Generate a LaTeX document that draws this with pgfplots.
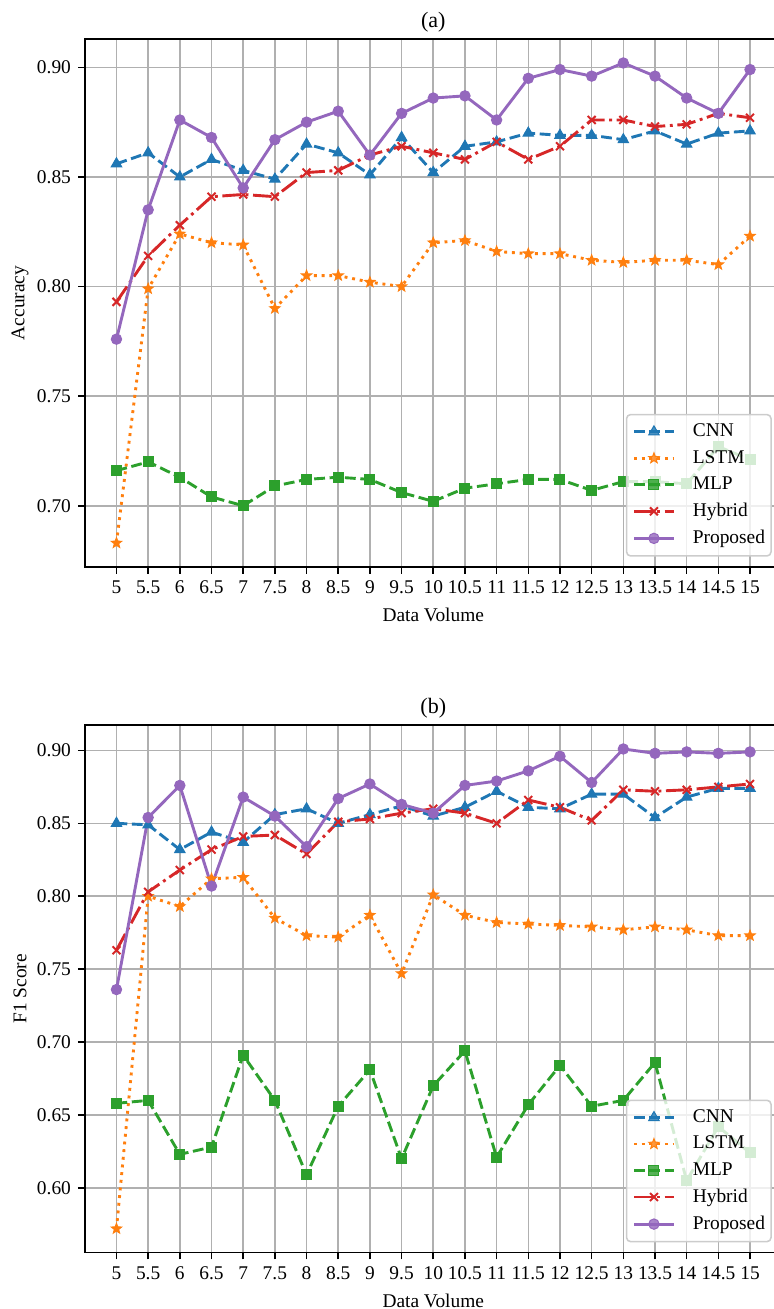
\documentclass[border=0pt]{standalone}
\usepackage{pgfplots}
\usepackage{pgfplotstable}
\pgfplotsset{compat=1.18}
\usepackage{fontspec}
\setmainfont{Liberation Serif}
\definecolor{cnn}{HTML}{1F77B4}
\definecolor{lstm}{HTML}{FF7F0E}
\definecolor{mlp}{HTML}{2CA02C}
\definecolor{hyb}{HTML}{D62728}
\definecolor{prop}{HTML}{9467BD}
\definecolor{gridc}{HTML}{B0B0B0}
\definecolor{legc}{HTML}{CCCCCC}

\pgfdeclareplotmark{fstar}{%
  \pgfpathmoveto{\pgfpointpolar{90}{\pgfplotmarksize}}%
  \pgfpathlineto{\pgfpointpolar{126}{0.42\pgfplotmarksize}}%
  \pgfpathlineto{\pgfpointpolar{162}{\pgfplotmarksize}}%
  \pgfpathlineto{\pgfpointpolar{198}{0.42\pgfplotmarksize}}%
  \pgfpathlineto{\pgfpointpolar{234}{\pgfplotmarksize}}%
  \pgfpathlineto{\pgfpointpolar{270}{0.42\pgfplotmarksize}}%
  \pgfpathlineto{\pgfpointpolar{306}{\pgfplotmarksize}}%
  \pgfpathlineto{\pgfpointpolar{342}{0.42\pgfplotmarksize}}%
  \pgfpathlineto{\pgfpointpolar{18}{\pgfplotmarksize}}%
  \pgfpathlineto{\pgfpointpolar{54}{0.42\pgfplotmarksize}}%
  \pgfpathclose\pgfusepathqfillstroke}

\pgfplotstableread{
x cnn lstm mlp hyb prop
5 0.856 0.683 0.716 0.793 0.776
5.5 0.861 0.799 0.720 0.814 0.835
6 0.850 0.824 0.713 0.828 0.876
6.5 0.858 0.820 0.704 0.841 0.868
7 0.853 0.819 0.700 0.842 0.845
7.5 0.849 0.790 0.709 0.841 0.867
8 0.865 0.805 0.712 0.852 0.875
8.5 0.861 0.805 0.713 0.853 0.880
9 0.851 0.802 0.712 0.860 0.860
9.5 0.868 0.800 0.706 0.864 0.879
10 0.852 0.820 0.702 0.861 0.886
10.5 0.864 0.821 0.708 0.858 0.887
11 0.866 0.816 0.710 0.866 0.876
11.5 0.870 0.815 0.712 0.858 0.895
12 0.869 0.815 0.712 0.864 0.899
12.5 0.869 0.812 0.707 0.876 0.896
13 0.867 0.811 0.711 0.876 0.902
13.5 0.871 0.812 0.711 0.873 0.896
14 0.865 0.812 0.710 0.874 0.886
14.5 0.870 0.810 0.727 0.879 0.879
15 0.871 0.823 0.721 0.877 0.899
}\dataA

\pgfplotstableread{
x cnn lstm mlp hyb prop
5 0.850 0.572 0.658 0.763 0.736
5.5 0.849 0.800 0.660 0.803 0.854
6 0.832 0.793 0.623 0.818 0.876
6.5 0.844 0.812 0.628 0.832 0.807
7 0.837 0.813 0.691 0.841 0.868
7.5 0.856 0.785 0.660 0.842 0.855
8 0.860 0.773 0.609 0.829 0.834
8.5 0.850 0.772 0.656 0.851 0.867
9 0.856 0.787 0.681 0.853 0.877
9.5 0.862 0.747 0.620 0.857 0.863
10 0.855 0.801 0.670 0.860 0.857
10.5 0.861 0.787 0.694 0.857 0.876
11 0.872 0.782 0.621 0.850 0.879
11.5 0.861 0.781 0.657 0.866 0.886
12 0.860 0.780 0.684 0.861 0.896
12.5 0.870 0.779 0.656 0.852 0.878
13 0.870 0.777 0.660 0.873 0.901
13.5 0.854 0.779 0.686 0.872 0.898
14 0.868 0.777 0.605 0.873 0.899
14.5 0.874 0.773 0.642 0.875 0.898
15 0.874 0.773 0.624 0.877 0.899
}\dataB

\pgfplotsset{
  panel/.style={
    scale only axis, width=348.45pt, height=264pt,
    xmin=4.5, xmax=15.5,
    xtick={5,5.5,6,6.5,7,7.5,8,8.5,9,9.5,10,10.5,11,11.5,12,12.5,13,13.5,14,14.5,15},
    xticklabels={5,5.5,6,6.5,7,7.5,8,8.5,9,9.5,10,10.5,11,11.5,12,12.5,13,13.5,14,14.5,15},
    xtick pos=bottom, ytick pos=left,
    tick align=outside, major tick length=3.4pt,
    every tick/.style={black, line width=0.78pt},
    axis line style={black, line width=0.78pt},
    grid=major, major grid style={gridc, line width=0.78pt},
    font=\fontsize{9.7}{11.6}\selectfont,
    /pgf/number format/assume math mode=true,
    yticklabel style={/pgf/number format/.cd, fixed, fixed zerofill, precision=2},
    xlabel={Data Volume},
    xlabel style={at={(axis description cs:0.5,-0.0909)}, anchor=center},
    ylabel style={at={(axis description cs:-0.093,0.5)}, anchor=center},
    title style={at={(axis description cs:0.5,1)}, anchor=center, yshift=2.6pt, font=\fontsize{11}{13}\selectfont},
    legend cell align=left,
    legend style={at={(0.9858,0.0195)}, anchor=south east,
      draw=legc, line width=0.78pt, rounded corners=2pt,
      fill=white, fill opacity=0.8, text opacity=1, draw opacity=1,
      inner xsep=3pt, inner ysep=2pt, row sep=0pt,
      font=\fontsize{9.7}{11.6}\selectfont,
      nodes={inner xsep=0pt, inner ysep=2.65pt},
      /tikz/every odd column/.append style={column sep=8.75pt}},
    legend image code/.code={\draw[mark repeat=2,mark phase=2,#1] plot coordinates {(0cm,0cm) (0.35cm,0cm) (0.7cm,0cm)};},
  },
  sCNN/.style={draw=cnn, line width=1.45pt, dash pattern=on 5.4pt off 2.3pt, mark=triangle*, mark size=3pt, mark options={solid, fill=cnn, line width=0.5pt}},
  sLSTM/.style={draw=lstm, line width=1.45pt, dash pattern=on 1.45pt off 2.4pt, mark=fstar, mark size=2.7pt, mark options={solid, fill=lstm, line width=0.5pt}},
  sMLP/.style={draw=mlp, line width=1.45pt, dash pattern=on 5.4pt off 2.3pt, mark=square*, mark size=2.5pt, mark options={solid, fill=mlp, line width=0.5pt}},
  sHYB/.style={draw=hyb, line width=1.45pt, dash pattern=on 9.3pt off 2.3pt on 1.45pt off 2.3pt, mark=x, mark size=2.8pt, mark options={solid, line width=1pt}},
  sPROP/.style={draw=prop, line width=1.45pt, solid, mark=*, mark size=2.6pt, mark options={solid, fill=prop, line width=0.5pt}},
}

\begin{document}
\begin{tikzpicture}
\begin{axis}[panel, at={(42.4pt,371pt)}, anchor=south west,
  ymin=0.67205, ymax=0.91295, ytick={0.70,0.75,0.80,0.85,0.90},
  ylabel={Accuracy}, title={(a)}]
\addplot[sCNN] table[x=x,y=cnn]{\dataA};
\addlegendentry{CNN}
\addplot[sLSTM] table[x=x,y=lstm]{\dataA};
\addlegendentry{LSTM}
\addplot[sMLP] table[x=x,y=mlp]{\dataA};
\addlegendentry{MLP}
\addplot[sHYB] table[x=x,y=hyb]{\dataA};
\addlegendentry{Hybrid}
\addplot[sPROP] table[x=x,y=prop]{\dataA};
\addlegendentry{Proposed}
\end{axis}
\begin{axis}[panel, at={(42.4pt,28.15pt)}, anchor=south west, height=263.85pt,
  ymin=0.55555, ymax=0.91745, ytick={0.60,0.65,0.70,0.75,0.80,0.85,0.90},
  ylabel={F1 Score}, title={(b)}]
\addplot[sCNN] table[x=x,y=cnn]{\dataB};
\addlegendentry{CNN}
\addplot[sLSTM] table[x=x,y=lstm]{\dataB};
\addlegendentry{LSTM}
\addplot[sMLP] table[x=x,y=mlp]{\dataB};
\addlegendentry{MLP}
\addplot[sHYB] table[x=x,y=hyb]{\dataB};
\addlegendentry{Hybrid}
\addplot[sPROP] table[x=x,y=prop]{\dataB};
\addlegendentry{Proposed}
\end{axis}
\pgfresetboundingbox
\useasboundingbox (0,0) rectangle (386.5pt,654.5pt);
\end{tikzpicture}
\end{document}
